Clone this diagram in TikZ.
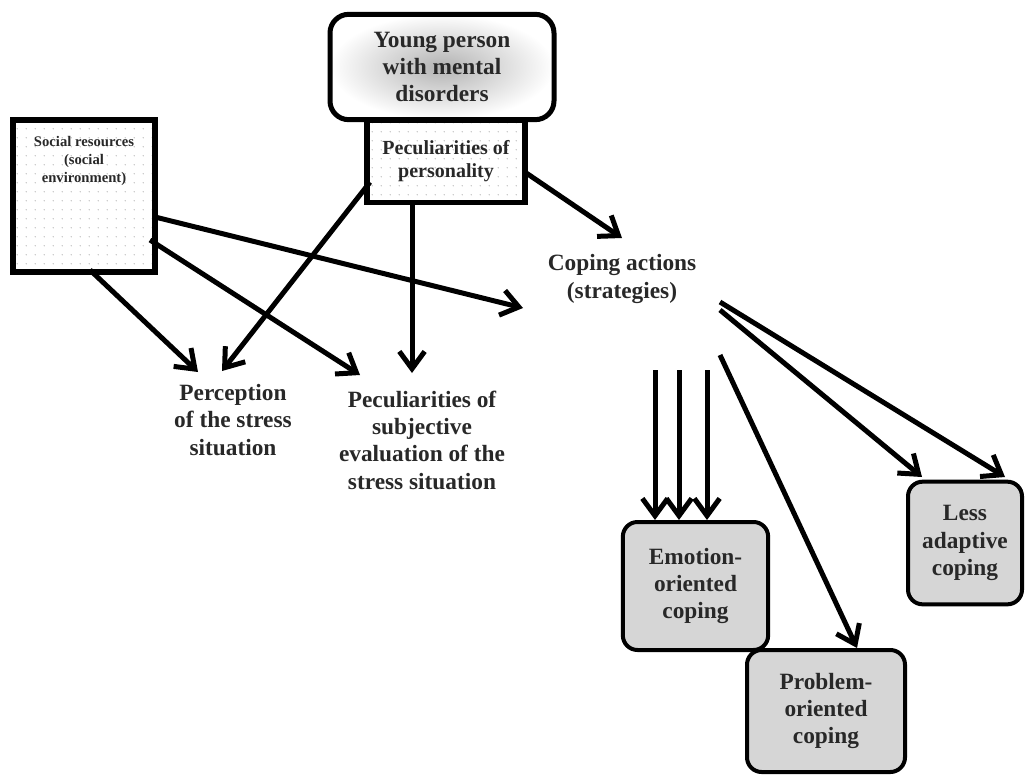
\documentclass[tikz,border=0pt]{standalone}
\usepackage{fontspec}
\setmainfont{Liberation Serif}
\usetikzlibrary{arrows.meta,positioning,patterns.meta,shadings}
\definecolor{inkgray}{RGB}{40,40,40}

\begin{document}
\begin{tikzpicture}[
    x=0.75pt, y=-0.75pt,
    font=\bfseries\fontsize{17.5}{20.5}\selectfont, text=inkgray,
    personbox/.style={rectangle, rounded corners=14pt, draw=black, line width=3.75pt, shading=radial,
                 inner color=gray!60, outer color=white, minimum width=168pt, minimum height=79pt,
                 align=center, inner sep=0pt},
    dotbox/.style={rectangle, draw=black, line width=4pt, pattern={Dots[distance=6.5pt,radius=0.45pt]},
                 pattern color=gray!80, align=center, inner sep=0pt},
    copebox/.style={rectangle, rounded corners=11pt, draw=black, line width=3pt, fill=gray!32,
                 align=center, inner sep=0pt},
    plain/.style={align=center, inner sep=0pt},
    arr/.style={-{Straight Barb[length=13pt,width=19pt]}, line width=3.75pt, black}
]
\useasboundingbox (0,0) rectangle (1025,775);

\node[personbox] (young) at (442,67) {Young person\\with mental\\disorders};
\node[dotbox, minimum width=118.5pt, minimum height=61.5pt, below=-3.5pt of young, xshift=3pt,
      font=\bfseries\fontsize{15}{17}\selectfont] (pers) {Peculiarities of\\personality};
\node[dotbox, minimum width=106.5pt, minimum height=114pt] (social) at (84,196)
     {\parbox[c][110pt][t]{100pt}{\centering\fontsize{11}{13.5}\selectfont\vspace*{10pt}%
      Social resources\\(social\\environment)}};

\node[plain, font=\bfseries\fontsize{17.5}{21}\selectfont] (coping) at (622,279) {Coping actions\\(strategies)};
\node[plain] (perc) at (233,420) {Perception\\of the stress\\situation};
\node[plain] (subj) at (422,440) {Peculiarities of\\subjective\\evaluation of the\\stress situation};

\node[copebox, minimum width=109pt, minimum height=96pt] (emo) at (695.5,586) {Emotion-\\oriented\\coping};
\node[copebox, minimum width=118.5pt, minimum height=91.5pt] (prob) at (826,711) {Problem-\\oriented\\coping};
\node[copebox, minimum width=85.5pt, minimum height=92pt] (less) at (965,543) {Less\\adaptive\\coping};

% influences on perception and evaluation
\draw[arr] ([shift={(6,74)}]social.center) -- ([shift={(-35,-48)}]perc.center);
\draw[arr] ([shift={(-76,21)}]pers.center) -- ([shift={(-11,-49)}]perc.center);
\draw[arr] ([shift={(-34,42)}]pers.center) -- ([shift={(-10,-67)}]subj.center);
\draw[arr] ([shift={(66,44)}]social.center) -- ([shift={(-62,-65)}]subj.center);
\draw[arr] ([shift={(71,21)}]social.center) -- ([shift={(-99,29)}]coping.center);
\draw[arr] ([shift={(79,11)}]pers.center) -- ([shift={(0,-41)}]coping.center);

% coping outcomes
\draw[arr] ([shift={(98,23)}]coping.center) -- ([shift={(40,-66)}]less.center);
\draw[arr] ([shift={(98,31)}]coping.center) -- ([shift={(-43,-66)}]less.center);
\draw[arr] ([shift={(98,76)}]coping.center) -- ([shift={(31,-63)}]prob.center);
\foreach \a/\b in {33/-40.5, 57/-16.5, 85/11.5}
    \draw[arr] ([shift={(\a,91)}]coping.center) -- ([shift={(\b,-66)}]emo.center);
\end{tikzpicture}
\end{document}
